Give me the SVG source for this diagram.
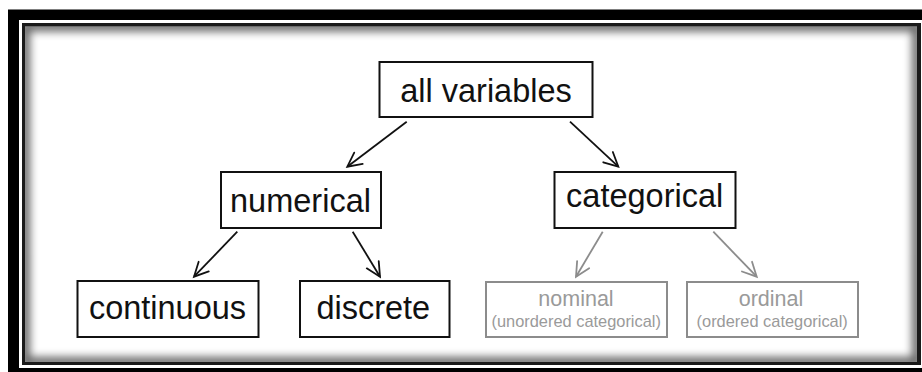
<svg xmlns="http://www.w3.org/2000/svg" width="922" height="372" viewBox="0 0 922 372">
  <style>
    .box { fill: #ffffff; stroke: #111111; stroke-width: 2; }
    .gbox { fill: #ffffff; stroke: #8c8c8c; stroke-width: 2; }
    .t { font-family: "Liberation Sans", Arial, Helvetica, sans-serif; font-size: 32.5px; fill: #111111; text-anchor: middle; }
    .gt { font-family: "Liberation Sans", Arial, Helvetica, sans-serif; font-size: 21.5px; fill: #9a9a9a; text-anchor: middle; }
    .gs { font-family: "Liberation Sans", Arial, Helvetica, sans-serif; font-size: 16.4px; fill: #9a9a9a; text-anchor: middle; }
    .arr { stroke: #111111; stroke-width: 1.8; fill: none; marker-end: url(#ah); }
    .garr { stroke: #8c8c8c; stroke-width: 1.8; fill: none; marker-end: url(#gah); }
  </style>
  <defs>
    <marker id="ah" markerUnits="userSpaceOnUse" markerWidth="20" markerHeight="20" viewBox="-16 -10 20 20" refX="0" refY="0" orient="auto">
      <path d="M -14 -7 L 0 0 L -14 7" fill="none" stroke="#111111" stroke-width="1.8" stroke-linecap="round" stroke-linejoin="miter"/>
    </marker>
    <marker id="gah" markerUnits="userSpaceOnUse" markerWidth="20" markerHeight="20" viewBox="-16 -10 20 20" refX="0" refY="0" orient="auto">
      <path d="M -14 -7 L 0 0 L -14 7" fill="none" stroke="#8c8c8c" stroke-width="1.8" stroke-linecap="round" stroke-linejoin="miter"/>
    </marker>
    <clipPath id="innerClip">
      <rect x="25" y="26.5" width="892" height="335.5"/>
    </clipPath>
    <filter id="blur" x="-5%" y="-5%" width="110%" height="110%">
      <feGaussianBlur stdDeviation="4"/>
    </filter>
  </defs>

  <!-- frame -->
  <g id="frame">
    <rect x="0" y="0" width="922" height="372" fill="#ffffff"/>
    <rect x="8" y="9.5" width="930" height="380" fill="#000000"/>
    <rect x="19" y="20" width="905" height="348" fill="#ffffff"/>
    <rect x="22" y="23" width="899" height="342" fill="#1a1a1a"/>
    <rect x="25" y="26.5" width="892" height="335.5" fill="#ffffff"/>
    <g clip-path="url(#innerClip)">
      <rect x="25" y="26.5" width="892" height="335.5" fill="none" stroke="#000000" stroke-width="10" opacity="0.6" filter="url(#blur)"/>
    </g>
  </g>

  <!-- connectors -->
  <g id="connectors">
    <line class="arr" x1="406.7" y1="121.7" x2="347.3" y2="166.7"/>
    <line class="arr" x1="570" y1="121.7" x2="618.3" y2="166.7"/>
    <line class="arr" x1="237.3" y1="231.7" x2="194" y2="276.7"/>
    <line class="arr" x1="352.7" y1="231.7" x2="380" y2="276.7"/>
    <line class="garr" x1="602.7" y1="231.7" x2="576" y2="276.7"/>
    <line class="garr" x1="713.3" y1="231.7" x2="756.7" y2="276.7"/>
  </g>

  <g id="node-all">
    <rect class="box" x="379.5" y="62" width="213" height="55"/>
    <text class="t" x="486" y="101.5">all variables</text>
  </g>
  <g id="node-numerical">
    <rect class="box" x="221" y="172" width="160" height="56"/>
    <text class="t" x="300.5" y="211.5">numerical</text>
  </g>
  <g id="node-categorical">
    <rect class="box" x="554.5" y="172" width="181" height="56"/>
    <text class="t" x="644.7" y="206.7">categorical</text>
  </g>
  <g id="node-continuous">
    <rect class="box" x="77.5" y="281" width="181" height="56"/>
    <text class="t" x="167.5" y="319.3">continuous</text>
  </g>
  <g id="node-discrete">
    <rect class="box" x="300" y="281" width="149.5" height="56"/>
    <text class="t" x="373.3" y="319.3">discrete</text>
  </g>
  <g id="node-nominal">
    <rect class="gbox" x="486" y="282" width="181" height="55"/>
    <text class="gt" x="576" y="305.7">nominal</text>
    <text class="gs" x="576.2" y="326.7">(unordered categorical)</text>
  </g>
  <g id="node-ordinal">
    <rect class="gbox" x="687" y="282" width="171" height="55"/>
    <text class="gt" x="771" y="306">ordinal</text>
    <text class="gs" x="772.2" y="327.3">(ordered categorical)</text>
  </g>
</svg>
